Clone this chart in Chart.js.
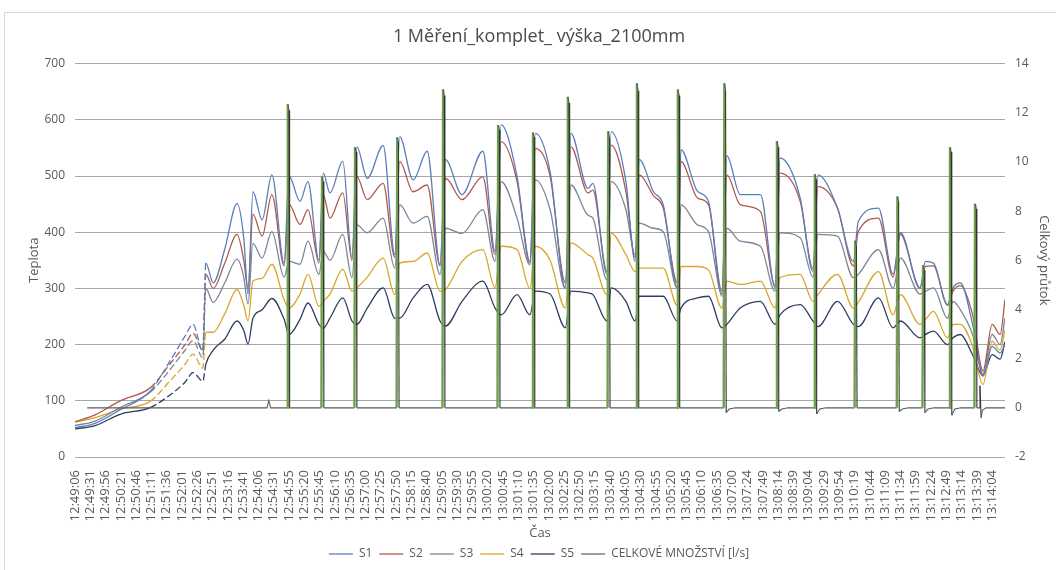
<!DOCTYPE html>
<html lang="cs">
<head>
<meta charset="utf-8">
<title>1 Měření_komplet_ výška_2100mm</title>
<script src="https://cdn.jsdelivr.net/npm/chart.js@4.4.1/dist/chart.umd.min.js"></script>
<style>
html,body{margin:0;padding:0;background:#fff;}
#wrap{position:relative;width:1056px;height:570px;overflow:hidden;}
#ramec{position:absolute;left:4px;top:12px;width:1100px;height:600px;border:1px solid #d9d9d9;}
#graf{position:absolute;left:0;top:0;}
</style>
</head>
<body>
<div id="wrap"><div id="ramec"></div><canvas id="graf" width="1056" height="570"></canvas></div>
<script>
'use strict';
// popisky osy X (každý 25. vzorek)
const cas=['12:49:06','12:49:31','12:49:56','12:50:21','12:50:46','12:51:11','12:51:36','12:52:01','12:52:26','12:52:51',
'12:53:16','12:53:41','12:54:06','12:54:31','12:54:55','12:55:20','12:55:45','12:56:10','12:56:35','12:57:00',
'12:57:25','12:57:50','12:58:15','12:58:40','12:59:05','12:59:30','12:59:55','13:00:20','13:00:45','13:01:10',
'13:01:35','13:02:00','13:02:25','13:02:50','13:03:15','13:03:40','13:04:05','13:04:30','13:04:55','13:05:20',
'13:05:45','13:06:10','13:06:35','13:07:00','13:07:24','13:07:49','13:08:14','13:08:39','13:09:04','13:09:29',
'13:09:54','13:10:19','13:10:44','13:11:09','13:11:34','13:11:59','13:12:24','13:12:49','13:13:14','13:13:39','13:14:04'];

// index vzorku pro teploty S1..S5
const tT=[0,33,74,123,155,180,193,209,214,226,245,265,276,283,291,306,322,342,350,368,381,399,406,417,438,453,461,478,504,523,
531,553,576,597,606,633,667,687,697,723,744,753,777,802,811,839,847,870,877,901,916,923,946,962,985,991,1018,1036,1058,1066,
1088,1121,1145,1153,1186,1207,1215,1247,1273,1281,1314,1338,1350,1382,1391,1404,1427,1436,1448,1468,1485,1500,1513,1521];
const s1=[52,60,84,117,170,215,236,188,345,310,370,451,390,290,472,422,502,345,500,455,490,350,505,470,526,354,552,496,554,360,
570,493,544,342,529,467,544,366,591,499,348,576,508,301,576,478,487,325,579,490,348,529,472,449,301,547,473,455,286,536,
467,467,301,532,461,330,502,443,348,419,443,325,399,301,348,345,271,301,310,236,144,197,185,200];
const s2=[63,75,100,123,165,200,220,190,325,300,345,396,350,300,432,393,467,340,450,414,440,345,467,425,470,350,499,458,487,355,
526,472,484,340,496,458,499,360,561,490,345,549,500,310,552,470,475,330,555,472,355,502,465,443,310,526,461,449,295,502,
449,437,305,505,455,335,481,443,340,401,425,320,396,300,339,340,270,295,305,253,153,236,218,280];
const s3=[56,64,88,115,155,190,207,177,300,275,310,352,320,272,380,354,401,320,348,343,384,325,366,350,396,319,413,399,425,336,
449,416,428,325,407,398,440,348,490,425,342,493,440,300,484,430,425,315,490,440,360,416,407,401,300,449,413,401,290,407,
384,375,295,399,390,320,396,393,319,325,369,300,354,290,295,301,247,277,262,218,148,218,200,247];
const s4=[62,70,85,99,135,165,183,158,222,222,255,298,270,242,313,318,343,280,265,290,325,268,277,290,334,295,301,320,354,289,
345,348,363,295,298,348,369,301,375,369,300,375,350,265,381,360,354,289,398,360,330,336,336,336,270,339,339,333,265,313,
307,313,265,319,325,277,289,325,265,275,330,253,289,236,245,259,212,236,236,197,129,206,190,226];
const s5=[50,56,76,88,110,133,150,135,165,190,210,242,225,201,247,262,282,245,218,245,274,236,229,247,283,242,236,265,301,247,
247,283,307,242,233,277,313,265,253,289,253,295,290,230,295,292,289,242,301,277,242,286,286,286,242,265,283,286,230,236,
265,277,236,253,271,242,232,277,236,232,283,230,242,212,218,224,200,212,218,182,145,182,174,205];

// celkový průtok [l/s] – index vzorku a hodnota
const tQ=[20,314,317,320,
347,348,350,351, 403,404,406,407, 457,458,460,461, 526,527,529,530, 601,602,604,605,
691,692,694,695, 748,749,751,752, 805,806,808,809, 871,872,874,875, 918,919,921,922,
985,986,988,989, 1061,1062,1064,1065,1070,1080, 1147,1148,1150,1151,1156,1166,
1209,1210,1212,1213,1218,1228, 1275,1276,1278,1279, 1344,1345,1347,1348,1353,1363,
1386,1387,1389,1390,1395,1405, 1430,1431,1433,1434,1439,1449, 1471,1472,1474,1475,
1479,1480,1482,1484,1490, 1521];
const q=[0,0,0.3,0,
0,12.35,12.1,0, 0,9.4,9.2,0, 0,10.6,10.4,0, 0,11.0,10.8,0, 0,12.95,12.7,0,
0,11.5,11.3,0, 0,11.2,11.0,0, 0,12.65,12.4,0, 0,11.25,11.0,0, 0,13.2,12.9,0,
0,12.95,12.7,0, 0,13.2,12.9,-0.2,-0.05,0, 0,10.85,10.6,-0.15,-0.05,0,
0,9.5,9.3,-0.25,-0.05,0, 0,6.8,6.6,0, 0,8.6,8.4,-0.15,-0.05,0,
0,5.8,5.6,-0.2,-0.05,0, 0,10.6,10.4,-0.3,-0.05,0, 0,8.3,8.1,0,
0,0.9,-0.4,-0.1,0, 0];

const xy=(xs,ys)=>xs.map((x,i)=>({x, y:ys[i]}));

Chart.defaults.font.family="'Open Sans', sans-serif";
Chart.defaults.color='#595959';

// v náběhu (12:50:40 – 12:51:50) jsou záznamy teplot přerušované
const prerus=c=>(c.p0.parsed.x>=120 && c.p1.parsed.x<=215)?[7,3]:undefined;

const teplota=(label,data,color,order)=>({label,data:xy(tT,data),borderColor:color,backgroundColor:color,
  borderWidth:1.3,pointRadius:0,cubicInterpolationMode:'monotone',yAxisID:'y',order,
  segment:{borderDash:prerus}});

const QUP='#6fa04d', QDOWN='#333333', QBASE='#5a5a5a';

new Chart(document.getElementById('graf'),{
  type:'line',
  data:{datasets:[
    teplota('S1',s1,'#5b7db8',1),
    teplota('S2',s2,'#b05a4e',2),
    teplota('S3',s3,'#7b8699',3),
    teplota('S4',s4,'#d9a62a',4),
    teplota('S5',s5,'#2e3c63',5),
    {label:'CELKOVÉ MNOŽSTVÍ [l/s]',data:xy(tQ,q),borderColor:'#4e6a3e',backgroundColor:'#4e6a3e',
     borderWidth:1.2,pointRadius:0,tension:0,yAxisID:'y1',order:0,
     segment:{
       borderColor:c=>c.p1.parsed.y>c.p0.parsed.y+1?QUP:(c.p1.parsed.y<c.p0.parsed.y-1?QDOWN:QBASE),
       borderWidth:c=>c.p1.parsed.y>c.p0.parsed.y+1?2.4:1.1
     }}
  ]},
  options:{
    responsive:false,animation:false,
    layout:{padding:{left:22,right:0,top:4,bottom:0}},
    plugins:{
      title:{display:true,text:'1 Měření_komplet_ výška_2100mm',font:{size:18,weight:'normal'},color:'#4a4a4a',padding:{top:22,bottom:16}},
      legend:{position:'bottom',labels:{usePointStyle:true,pointStyle:'line',pointStyleWidth:24,boxHeight:12,padding:7,
        font:{size:12},color:'#595959',sort:(a,b)=>a.datasetIndex-b.datasetIndex}},
      tooltip:{enabled:false}
    },
    scales:{
      x:{type:'linear',min:0,max:1521,
        grid:{display:false},border:{display:false},
        afterBuildTicks:s=>{s.ticks=cas.map((_,i)=>({value:i*25}));},
        afterFit:s=>{s.height=84;},
        ticks:{autoSkip:false,minRotation:90,maxRotation:90,padding:5,font:{size:13},color:'#595959',
          callback:(v,i)=>cas[i]},
        title:{display:true,text:'Čas',font:{size:13},color:'#595959',padding:{top:0,bottom:0}}
      },
      y:{position:'left',min:0,max:700,
        afterFit:s=>{s.width=53;},
        ticks:{stepSize:100,padding:10,font:{size:12},color:'#595959'},
        grid:{color:'#a6a6a6',lineWidth:1,drawTicks:false},border:{display:false},
        title:{display:true,text:'Teplota',font:{size:13},color:'#595959',padding:{top:4,bottom:0}}
      },
      y1:{position:'right',min:-2,max:14,
        afterFit:s=>{s.width=51;},
        ticks:{stepSize:2,padding:10,font:{size:12},color:'#595959'},
        grid:{display:false,drawTicks:false},border:{display:false},
        title:{display:true,text:'Celkový průtok',font:{size:13},color:'#595959',padding:{top:4,bottom:0}}
      }
    }
  }
});
</script>
</body>
</html>
